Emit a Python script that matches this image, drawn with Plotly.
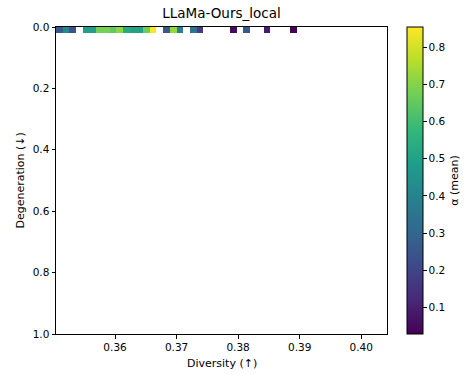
import plotly.graph_objects as go

# Data
title = "LLaMa-Ours_local"
x_bin_start = 0.3504
x_bin_width = 0.001086
y_edges = [0.0, 0.02]
# mean alpha per diversity bin (None = empty bin)
alpha_mean = [0.26, 0.42, 0.24, None, 0.49, 0.49, 0.68, 0.68, 0.65, 0.71,
              0.53, 0.50, 0.50, 0.67, 0.86, None, 0.26, 0.72, 0.40, None,
              0.34, 0.18, None, None, None, None, 0.05, None, 0.26, None,
              None, 0.09, None, None, None, 0.03]
x_ticks = [0.36, 0.37, 0.38, 0.39, 0.40]
y_ticks = [0.0, 0.2, 0.4, 0.6, 0.8, 1.0]
cbar_ticks = [0.1, 0.2, 0.3, 0.4, 0.5, 0.6, 0.7, 0.8]
cmin, cmax = 0.028, 0.855

x_edges = [x_bin_start + i * x_bin_width for i in range(len(alpha_mean) + 1)]

L, R, T, B = 56, 82, 27, 40
W, H = 469, 374
pw, ph = W - L - R, H - T - B

fig = go.Figure(go.Heatmap(
    x=x_edges, y=y_edges, z=[alpha_mean],
    colorscale="Viridis", zmin=cmin, zmax=cmax, zsmooth=False,
    colorbar=dict(
        title=dict(text="α (mean)", side="right", font=dict(size=11, color="black")),
        thickness=16, len=1, lenmode="fraction", y=0.5, yanchor="middle",
        x=(407 - L) / pw, xanchor="left", xpad=0, ypad=0,
        outlinewidth=1, outlinecolor="black",
        tickvals=cbar_ticks, ticktext=[f"{v:.1f}" for v in cbar_ticks],
        ticks="outside", ticklen=3.5, tickcolor="black",
        tickfont=dict(size=10.5, color="black"),
    ),
))

font_family = "DejaVu Sans"
fig.update_layout(
    width=W, height=H,
    margin=dict(l=L, r=R, t=T, b=B, autoexpand=False),
    paper_bgcolor="white", plot_bgcolor="white",
    font=dict(family=font_family, size=10.5, color="black"),
    title=dict(text=title, x=(L + pw / 2) / W, xanchor="center",
               y=1 - 13 / H, yanchor="middle", font=dict(size=13.5, color="black")),
    showlegend=False,
    annotations=[
        dict(text="Diversity (↑)", xref="paper", yref="paper", x=0.5,
             y=-(363 - (T + ph)) / ph, xanchor="center", yanchor="middle",
             showarrow=False, font=dict(size=11, color="black")),
        dict(text="Degeneration (↓)", xref="paper", yref="paper",
             x=(20 - L) / pw, y=0.5, xanchor="center", yanchor="middle",
             textangle=-90, showarrow=False, font=dict(size=11, color="black")),
    ],
)
fig.update_xaxes(
    range=[0.3504, 0.4042], tickvals=x_ticks, ticktext=[f"{v:.2f}" for v in x_ticks],
    showline=True, linecolor="black", linewidth=1, mirror=True, automargin=False,
    ticks="outside", ticklen=3.5, tickcolor="black", showgrid=False, zeroline=False,
    tickfont=dict(size=10.5),
)
fig.update_yaxes(
    range=[1, 0], tickvals=y_ticks, ticktext=[f"{v:.1f}" for v in y_ticks],
    showline=True, linecolor="black", linewidth=1, mirror=True, automargin=False,
    ticks="outside", ticklen=3.5, tickcolor="black", showgrid=False, zeroline=False,
    tickfont=dict(size=10.5),
)

fig.write_html("out.html")
